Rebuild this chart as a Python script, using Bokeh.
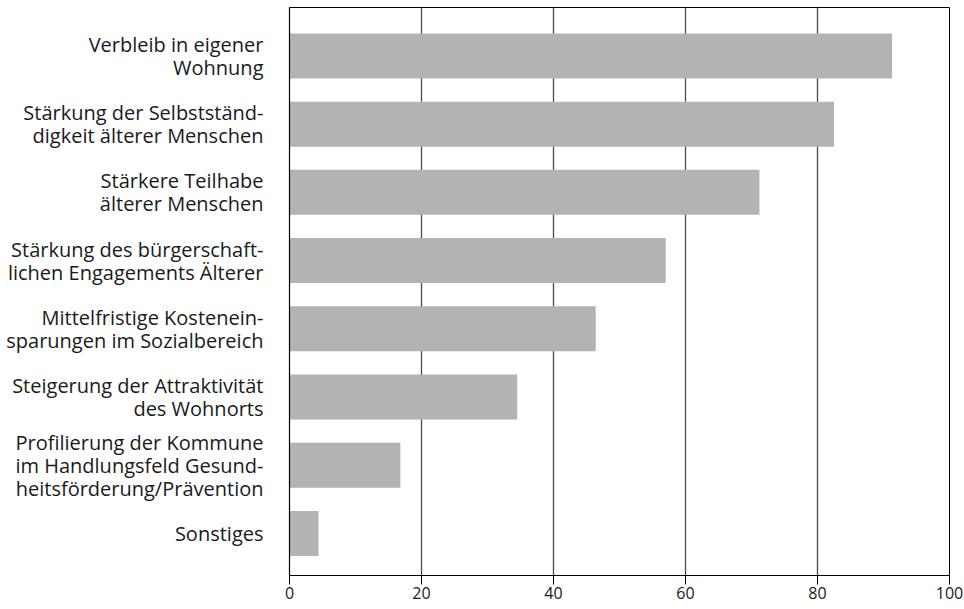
from bokeh.plotting import figure
from bokeh.models import FixedTicker, ColumnDataSource, Range1d
from bokeh.embed import file_html
from bokeh.resources import INLINE

categories = [
    "Verbleib in eigener\nWohnung",
    "Stärkung der Selbstständ-\ndigkeit älterer Menschen",
    "Stärkere Teilhabe\nälterer Menschen",
    "Stärkung des bürgerschaft-\nlichen Engagements Älterer",
    "Mittelfristige Kostenein-\nsparungen im Sozialbereich",
    "Steigerung der Attraktivität\ndes Wohnorts",
    "Profilierung der Kommune\nim Handlungsfeld Gesund-\nheitsförderung/Prävention",
    "Sonstiges",
]
values = [91.3, 82.5, 71.2, 57.0, 46.4, 34.5, 16.8, 4.4]
x_ticks = [0, 20, 40, 60, 80, 100]
grid_ticks = [20, 40, 60, 80]

positions = list(range(len(categories), 0, -1))
src = ColumnDataSource(dict(pos=positions, value=values, label=categories))

FONT = "Open Sans"

p = figure(width=964, height=609, output_backend="svg", toolbar_location=None,
           x_range=Range1d(0, 100), y_range=Range1d(0.383, 8.71),
           min_border_left=289, min_border_right=15, min_border_top=7, min_border_bottom=34)

p.hbar(y="pos", right="value", left=0, height=0.66, source=src,
       fill_color="#b3b3b3", line_color=None)

p.outline_line_color = "black"
p.outline_line_width = 1

p.xgrid.ticker = FixedTicker(ticks=grid_ticks)
p.xgrid.grid_line_color = "#4a4a4a"
p.xgrid.grid_line_width = 1.3
p.ygrid.visible = False

ya = p.yaxis[0]
ya.ticker = FixedTicker(ticks=positions)
ya.major_label_overrides = {pos: lab for pos, lab in zip(positions, categories)}
ya.major_tick_line_color = None
ya.minor_tick_line_color = None
ya.axis_line_color = "black"
ya.axis_line_width = 1.2
ya.major_label_standoff = 20
ya.major_label_text_font = FONT
ya.major_label_text_font_size = "20px"
ya.major_label_text_line_height = 0.85
ya.major_label_text_color = "#1a1a1a"

xa = p.xaxis[0]
xa.ticker = FixedTicker(ticks=x_ticks)
xa.major_tick_out = 9
xa.major_tick_in = 0
xa.major_tick_line_color = "black"
xa.minor_tick_line_color = None
xa.axis_line_color = "black"
xa.axis_line_width = 1.2
xa.major_label_standoff = 2
xa.major_label_text_font = FONT
xa.major_label_text_font_size = "16px"
xa.major_label_text_color = "#1a1a1a"

open("out.html", "w").write(file_html(p, INLINE))
